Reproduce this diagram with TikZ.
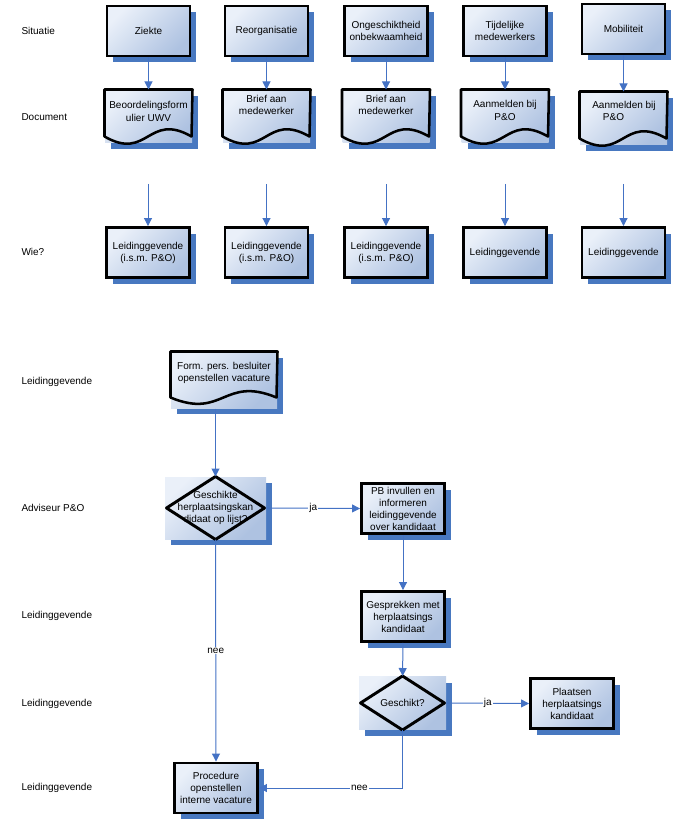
\documentclass[tikz,border=0pt]{standalone}
\usepackage{fontspec}
\setmainfont{Liberation Sans}
\usetikzlibrary{arrows.meta,shadows}

\definecolor{shadowblue}{RGB}{72,120,192}
\definecolor{flowblue}{RGB}{68,114,196}
\definecolor{boxlight}{RGB}{234,240,249}
\definecolor{boxdark}{RGB}{174,194,225}

\tikzset{every picture/.style={line width=0.75pt}}
\tikzset{
  shadedbox/.style={rectangle, inner sep=0pt, align=center,
    font=\fontsize{7.5pt}{9pt}\selectfont,
    top color=boxlight, bottom color=boxdark, shading angle=45,
    drop shadow={shadow xshift=4.5pt, shadow yshift=-4.5pt, fill=shadowblue, opacity=1}},
  procbox/.style={shadedbox, draw=black, line width=2.2pt,
    minimum width=62.25pt, minimum height=37.5pt},
  docbox/.style={shadedbox, minimum width=65.25pt, minimum height=39.75pt},
  docline/.style={draw=black, line width=1.9pt, line join=round},
  decline/.style={draw=black, line width=2.2pt, line join=round},
  doctext/.style={align=center, inner sep=0pt, font=\fontsize{7.5pt}{9.4pt}\selectfont},
  flow/.style={draw=flowblue, line width=0.75pt, -{Triangle[width=6pt,length=6pt]}},
  lbl/.style={fill=white, inner sep=0.8pt, font=\fontsize{7.5pt}{9pt}\selectfont},
  lane/.style={anchor=west, inner sep=0pt, font=\fontsize{7.5pt}{9pt}\selectfont},
}

\begin{document}
\begin{tikzpicture}[x=0.75pt,y=0.75pt,yscale=-1,xscale=1]
	\useasboundingbox (0,0) rectangle (679,827);

	% Text Node
	\node[lane] (lsit) at (21,31) {Situatie};
	% Text Node
	\node[lane] (ldoc) at (21,117) {Document};
	% Text Node
	\node[lane] (lwie) at (21,252) {Wie?};
	% Text Node
	\node[lane] (lform) at (21,382) {Leidinggevende};
	% Text Node
	\node[lane] (ladv) at (21,508) {Adviseur P\&O};
	% Text Node
	\node[lane] (lgespr) at (21,616) {Leidinggevende};
	% Text Node
	\node[lane] (lgesch) at (21,704) {Leidinggevende};
	% Text Node
	\node[lane] (lproc) at (21,788) {Leidinggevende};

	%Shape: Rectangle [Situatie]
	\node[procbox] (sit1) at (148.5,31) {Ziekte};
	\node[procbox] (sit2) at (266.5,31) {Reorganisatie};
	\node[procbox] (sit3) at (386,31) {Ongeschiktheid\\onbekwaamheid};
	\node[procbox] (sit4) at (505,31) {Tijdelijke\\medewerkers};
	\node[procbox] (sit5) at (623.5,29) {Mobiliteit};

	%Shape: Document [Document]
	\node[docbox] (doc1) at (148.5,116.5) {};
	\draw[docline] (doc1.north west) -- ++(0,47) .. controls +(43.5,25) and +(-43.5,-25) .. ++(87,0) -- (doc1.north east) -- cycle;
	\node[doctext] (doc1t) at (148.5,111.5) {Beoordelingsform\\ulier UWV};
	\node[docbox] (doc2) at (266.5,116.5) {};
	\draw[docline] (doc2.north west) -- ++(0,47) .. controls +(43.5,25) and +(-43.5,-25) .. ++(87,0) -- (doc2.north east) -- cycle;
	\node[doctext] (doc2t) at (266.5,105) {Brief aan\\medewerker};
	\node[docbox] (doc3) at (386,116.5) {};
	\draw[docline] (doc3.north west) -- ++(0,47) .. controls +(43.5,25) and +(-43.5,-25) .. ++(87,0) -- (doc3.north east) -- cycle;
	\node[doctext] (doc3t) at (386,105) {Brief aan\\medewerker};
	\node[docbox] (doc4) at (505,116.5) {};
	\draw[docline] (doc4.north west) -- ++(0,47) .. controls +(43.5,25) and +(-43.5,-25) .. ++(87,0) -- (doc4.north east) -- cycle;
	\node[doctext] (doc4t) at (505,110.5) {Aanmelden bij\\P\&O};
	\node[docbox] (doc5) at (623.5,118.5) {};
	\draw[docline] (doc5.north west) -- ++(0,47) .. controls +(43.5,25) and +(-43.5,-25) .. ++(87,0) -- (doc5.north east) -- cycle;
	\node[doctext, align=left] (doc5t) at (624,111) {Aanmelden bij\\\hspace{8pt}P\&O};

	%Shape: Rectangle [Wie?]
	\node[procbox] (wie1) at (148,252.5) {Leidinggevende\\(i.s.m. P\&O)};
	\node[procbox] (wie2) at (266.5,252.5) {Leidinggevende\\(i.s.m. P\&O)};
	\node[procbox] (wie3) at (386,252.5) {Leidinggevende\\(i.s.m. P\&O)};
	\node[procbox] (wie4) at (505,252.5) {Leidinggevende};
	\node[procbox] (wie5) at (623.5,252.5) {Leidinggevende};

	\coordinate (w1) at (148,184);
	\coordinate (w2) at (266.5,184);
	\coordinate (w3) at (386,184);
	\coordinate (w4) at (505,184);
	\coordinate (w5) at (623.5,184);

	%Straight Lines [Situatie -> Document]
	\draw[flow] (sit1) -- (doc1);
	\draw[flow] (sit2) -- (doc2);
	\draw[flow] (sit3) -- (doc3);
	\draw[flow] (sit4) -- (doc4);
	\draw[flow] (sit5) -- (doc5);
	%Straight Lines [-> Wie?]
	\draw[flow] (w1) -- (wie1);
	\draw[flow] (w2) -- (wie2);
	\draw[flow] (w3) -- (wie3);
	\draw[flow] (w4) -- (wie4);
	\draw[flow] (w5) -- (wie5);

	%Shape: Document [Form. pers. besluit]
	\node[docbox, minimum width=79.5pt, minimum height=42pt] (form) at (224,380) {};
	\draw[docline] (form.north west) -- ++(0,46) .. controls +(53,22) and +(-53,-22) .. ++(106,0) -- (form.north east) -- cycle;
	\node[doctext] (formt) at (224,373) {Form. pers. besluiter\\openstellen vacature};

	%Shape: Diamond [Geschikte kandidaat]
	\node[shadedbox, minimum width=75.75pt, minimum height=46.5pt] (gesch1) at (215.5,508) {Geschikte\\herplaatsingskan\\didaat op lijst?};
	\draw[decline] ([xshift=1.5pt]gesch1.west) -- (gesch1.north) -- ([xshift=-1.5pt]gesch1.east) -- (gesch1.south) -- cycle;

	%Shape: Rectangle [PB invullen]
	\node[procbox] (pb) at (403,508.5) {PB invullen en\\informeren\\leidinggevende\\over kandidaat};
	%Shape: Rectangle [Gesprekken]
	\node[procbox] (gespr) at (403,616.5) {Gesprekken met\\herplaatsings\\kandidaat};

	%Shape: Diamond [Geschikt?]
	\node[shadedbox, minimum width=65.25pt, minimum height=39.75pt] (gesch2) at (402.5,703) {Geschikt?};
	\draw[decline] ([xshift=1.5pt]gesch2.west) -- (gesch2.north) -- ([xshift=-1.5pt]gesch2.east) -- (gesch2.south) -- cycle;

	%Shape: Rectangle [Plaatsen]
	\node[procbox] (plaats) at (572,703.5) {Plaatsen\\herplaatsings\\kandidaat};
	%Shape: Rectangle [Procedure]
	\node[procbox] (proc) at (216,788) {Procedure\\openstellen\\interne vacature};

	%Straight Lines [flow]
	\draw[flow] (gesch1.north |- form.south) -- (gesch1.north);
	\draw[flow] (gesch1.east) -- (pb.west) node[lbl, midway] {ja};
	\draw[flow] (pb) -- (gespr);
	\draw[flow] (gespr) -- (gesch2);
	\draw[flow] (gesch2.east) -- (plaats.west) node[lbl, midway] {ja};
	\draw[flow] (gesch1.south) -- (proc.north) node[lbl, midway] {nee};
	\draw[flow] (gesch2.south) |- (proc.east) node[lbl, pos=0.65] {nee};

\end{tikzpicture}
\end{document}
